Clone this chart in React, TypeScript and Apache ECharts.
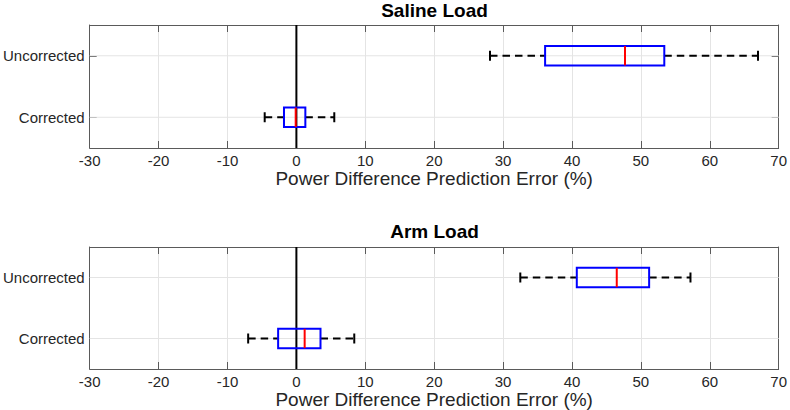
import React, { useEffect, useRef } from "react";
import * as echarts from "echarts";

// Categories (bottom to top on the category axis)
const categories = ["Corrected", "Uncorrected"];
// Box stats: [min whisker, Q1, median, Q3, max whisker]
const salineCorrected = [-4.6, -1.8, -0.1, 1.3, 5.5];
const salineUncorrected = [28.1, 36.1, 47.7, 53.4, 67.0];
const armCorrected = [-7.0, -2.65, 1.2, 3.5, 8.4];
const armUncorrected = [32.5, 40.7, 46.5, 51.2, 57.2];
const titles = ["Saline Load", "Arm Load"];
const xName = "Power Difference Prediction Error (%)";
const xMin = -30;
const xMax = 70;
const xStep = 10;
const refLineValue = 0;

const FONT = '"Liberation Sans", Arial, Helvetica, sans-serif';
const AXIS_COLOR = "#5a5a5a";
const TEXT_COLOR = "#262626";
const GRID_COLOR = "#e4e4e4";

const panels = [
  { title: titles[0], rows: [salineCorrected, salineUncorrected] },
  { title: titles[1], rows: [armCorrected, armUncorrected] },
];

const gridBoxes = [
  { left: 89, top: 25, width: 691, height: 123 },
  { left: 89, top: 247, width: 691, height: 122 },
];

function renderBox(params: any, api: any) {
  const yi = api.value(0);
  const pLo = api.coord([api.value(1), yi]);
  const pQ1 = api.coord([api.value(2), yi]);
  const pMed = api.coord([api.value(3), yi]);
  const pQ3 = api.coord([api.value(4), yi]);
  const pHi = api.coord([api.value(5), yi]);
  const cs = params.coordSys;
  const cy = pLo[1];
  const h = 9.7;
  const capH = 5;
  const dash = { stroke: "#000", lineWidth: 2, lineDash: [7.5, 5] };
  const cap = { stroke: "#000", lineWidth: 2 };
  const children: any[] = [];
  if (params.dataIndex === 0) {
    // horizontal grid lines at every category, then the zero reference line
    categories.forEach((_, k) => {
      const pk = api.coord([refLineValue, k]);
      children.push({
        type: "line",
        shape: { x1: cs.x, y1: pk[1], x2: cs.x + cs.width, y2: pk[1] },
        style: { stroke: GRID_COLOR, lineWidth: 1 },
      });
    });
    const pZero = api.coord([refLineValue, yi]);
    children.push({
      type: "line",
      shape: { x1: pZero[0], y1: cs.y, x2: pZero[0], y2: cs.y + cs.height },
      style: { stroke: "#000", lineWidth: 2 },
    });
  }
  children.push(
    {
      type: "line",
      shape: { x1: pLo[0], y1: cy, x2: pQ1[0], y2: cy },
      style: dash,
    },
    {
      type: "line",
      shape: { x1: pQ3[0], y1: cy, x2: pHi[0], y2: cy },
      style: dash,
    },
    {
      type: "line",
      shape: { x1: pLo[0], y1: cy - capH, x2: pLo[0], y2: cy + capH },
      style: cap,
    },
    {
      type: "line",
      shape: { x1: pHi[0], y1: cy - capH, x2: pHi[0], y2: cy + capH },
      style: cap,
    },
    {
      type: "rect",
      shape: { x: pQ1[0], y: cy - h, width: pQ3[0] - pQ1[0], height: 2 * h },
      style: { fill: "none", stroke: "#0000ff", lineWidth: 2 },
    },
    {
      type: "line",
      shape: { x1: pMed[0], y1: cy - h, x2: pMed[0], y2: cy + h },
      style: { stroke: "#ff0000", lineWidth: 2 },
    }
  );
  return { type: "group", children };
}

export default function App() {
  const ref = useRef<HTMLDivElement>(null);
  useEffect(() => {
    if (!ref.current) return;
    const chart = echarts.init(ref.current, undefined, { renderer: "svg" });

    const grid: any[] = [];
    const xAxis: any[] = [];
    const yAxis: any[] = [];
    const series: any[] = [];
    const graphic: any[] = [];
    const line = { show: true, onZero: false, lineStyle: { color: AXIS_COLOR, width: 1 } };

    panels.forEach((p, g) => {
      const gb = gridBoxes[g];
      grid.push({ ...gb, containLabel: false });
      xAxis.push({
        type: "value",
        gridIndex: g,
        position: "bottom",
        min: xMin,
        max: xMax,
        interval: xStep,
        name: xName,
        nameLocation: "middle",
        nameGap: 19,
        nameTextStyle: { fontFamily: FONT, fontSize: 19, color: TEXT_COLOR },
        axisLine: line,
        axisTick: { show: true, inside: true, length: 7, lineStyle: { color: AXIS_COLOR } },
        axisLabel: { show: true, fontFamily: FONT, fontSize: 15, color: TEXT_COLOR, margin: 5 },
        splitLine: { show: true, lineStyle: { color: GRID_COLOR, width: 1 } },
      });
      xAxis.push({
        type: "value",
        gridIndex: g,
        position: "top",
        min: xMin,
        max: xMax,
        interval: xStep,
        axisLine: line,
        axisTick: { show: true, inside: true, length: 7, lineStyle: { color: AXIS_COLOR } },
        axisLabel: { show: false },
        splitLine: { show: false },
      });
      yAxis.push({
        type: "category",
        gridIndex: g,
        position: "left",
        data: categories,
        axisLine: line,
        axisTick: { show: true, inside: true, length: 7, alignWithLabel: true, lineStyle: { color: AXIS_COLOR } },
        axisLabel: { show: true, fontFamily: FONT, fontSize: 15, color: TEXT_COLOR, margin: 5 },
        splitLine: { show: false },
      });
      yAxis.push({
        type: "category",
        gridIndex: g,
        position: "right",
        data: categories,
        axisLine: line,
        axisTick: { show: true, inside: true, length: 7, alignWithLabel: true, lineStyle: { color: AXIS_COLOR } },
        axisLabel: { show: false },
        splitLine: { show: false },
      });
      series.push({
        type: "custom",
        xAxisIndex: 2 * g,
        yAxisIndex: 2 * g,
        renderItem: renderBox,
        encode: { x: [1, 2, 3, 4, 5], y: 0 },
        data: p.rows.map((r, i) => [i, ...r]),
        silent: true,
      });
      graphic.push({
        type: "text",
        x: gb.left + gb.width / 2,
        y: g === 0 ? 10 : 231.5,
        style: {
          text: p.title,
          font: `bold 19px ${FONT}`,
          fill: "#000",
          textAlign: "center",
          textVerticalAlign: "middle",
        },
      });
    });

    chart.setOption({
      animation: false,
      backgroundColor: "#fff",
      grid,
      xAxis,
      yAxis,
      series,
      graphic,
    });
    return () => chart.dispose();
  }, []);

  return (
    <div
      ref={ref}
      style={{ position: "absolute", left: 0, top: 0, width: 790, height: 410 }}
    />
  );
}
